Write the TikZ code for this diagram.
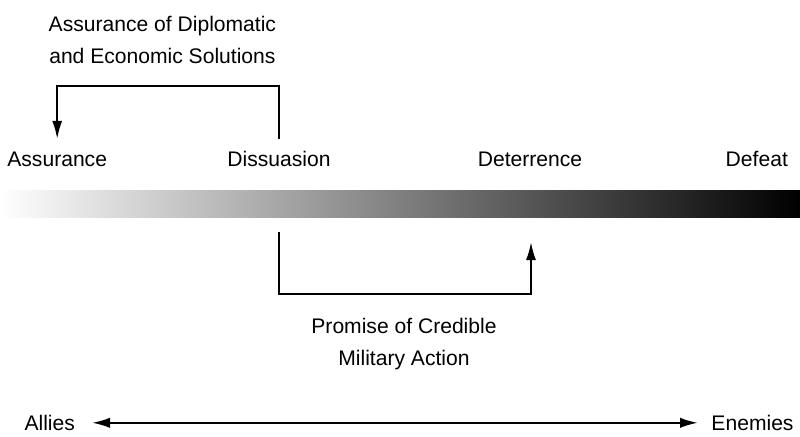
\documentclass[tikz,border=0pt]{standalone}
\usepackage{fontspec}
\setmainfont{Liberation Sans}
\usetikzlibrary{arrows.meta}
\begin{document}
\begin{tikzpicture}

\tikzset{lbl/.style={font=\fontsize{15}{22.5}\selectfont,text height=0.4cm,text depth=0.1cm,inner ysep=0.27cm,inner xsep=0pt},
    note/.style={font=\fontsize{15}{22.5}\selectfont,align=center},
    tip/.style={Latex[length=4.5mm,width=2.5mm]},
    link/.style={line width=1.4pt,-{Latex[length=4.5mm,width=2.5mm]}},
    side/.style={font=\fontsize{15}{22.5}\selectfont,inner xsep=0.42cm}}

\useasboundingbox (0,0) rectangle (20,10.9);

\node[note] (diplo) at (4.06,9.9) {Assurance of Diplomatic\\and Economic Solutions};

\node[lbl,anchor=base] (assur) at (1.43,6.75) {Assurance};
\node[lbl,anchor=base] (diss) at (6.975,6.75) {Dissuasion};
\node[lbl,anchor=base] (deter) at (13.25,6.75) {Deterrence};
\node[lbl,anchor=base] (defeat) at (18.92,6.75) {Defeat};

\node[draw=none,minimum width=20cm,minimum height=0.675cm,inner sep=0pt,left color=white,right color=black] (scale) at (10,5.8125) {};

\draw[link] (diss.north) -- ++(0,1.33) -| (assur.north);

\coordinate (pstart) at (diss.center |- 0,5.1);
\coordinate (pend) at (13.275,4.85);
\draw[link] (pstart) -- ++(0,-1.55) -| (pend);

\node[note] (promise) at (10.1,2.3) {Promise of Credible\\Military Action};

\node[side,anchor=east] (allies) at (2.3,0.33) {Allies};
\node[side,anchor=west,inner xsep=0.33cm] (enemies) at (17.45,0.33) {Enemies};
\draw[line width=1.6pt,{Latex[length=4.5mm,width=2.6mm]}-{Latex[length=4.5mm,width=2.6mm]}] (allies.east) -- (enemies.west);

\end{tikzpicture}
\end{document}
